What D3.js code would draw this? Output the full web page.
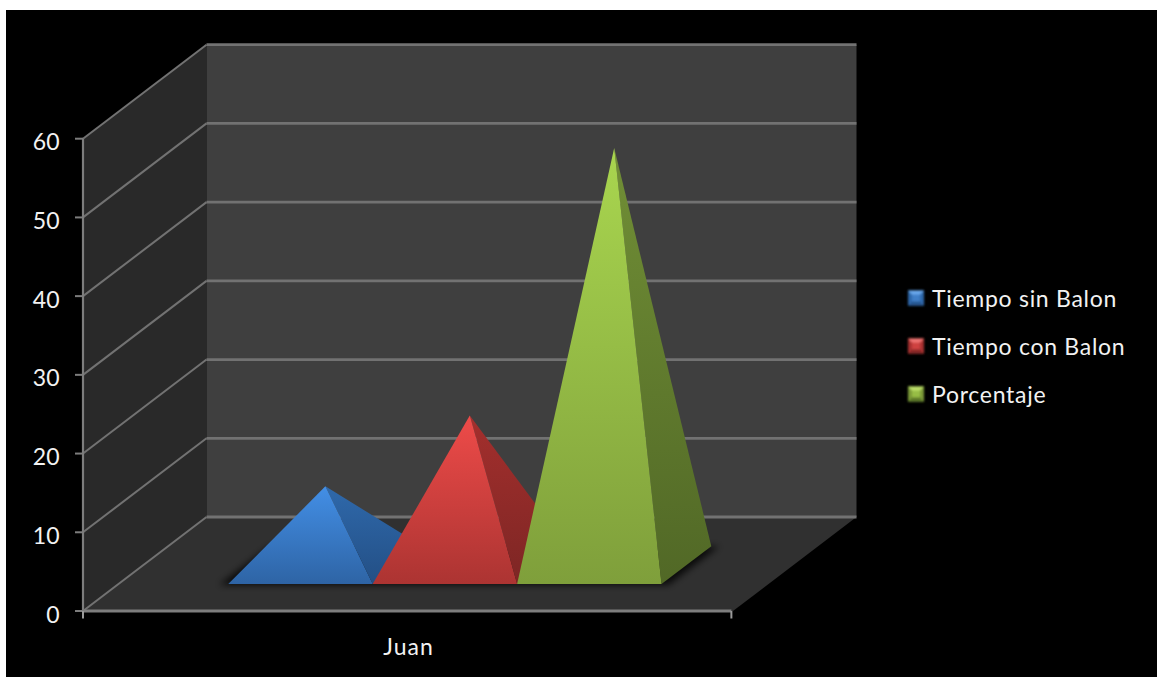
<!DOCTYPE html>
<html>
<head>
<meta charset="utf-8">
<script src="https://cdn.jsdelivr.net/npm/d3@7"></script>
<style>
html,body{margin:0;padding:0;background:#fff;}
svg{display:block;}
text{font-family:Lato,"Open Sans",sans-serif;fill:#f2f2f2;}
</style>
</head>
<body>
<div id="chart"></div>
<script>
const categories = ["Juan"];
const seriesNames = ["Tiempo sin Balon", "Tiempo con Balon", "Porcentaje"];
const seriesValues = [10, 19, 53];
const yTicks = [0, 10, 20, 30, 40, 50, 60];

// top, bottom colours for the lit front face, then for the shaded side face
const frontColors = [["#438fe6", "#2e64a5"], ["#ee4b49", "#ac3432"], ["#a9d64f", "#7f9f3b"]];
const sideColors = [["#2f69ab", "#234f85"], ["#a42f2d", "#7d2624"], ["#718f36", "#516826"]];
const swatchColors = [
  ["#6aa8ec", "#2f68aa", "#3f7fc8", "#27558e"],
  ["#f07573", "#a83230", "#cf4240", "#842725"],
  ["#bde06a", "#7b9a38", "#97bd45", "#5c7729"]
];

const W = 1157, H = 677;
const svg = d3.select("#chart").append("svg").attr("width", W).attr("height", H);
const defs = svg.append("defs");

// Plot box: front plane of the chart plus the oblique depth vector
const y = d3.scaleLinear().domain([0, 60]).range([611, 138.7]);
const x = d3.scaleLinear().domain([0, 1]).range([83, 733]);
const depthX = d3.scaleLinear().domain([0, 1]).range([0, 123.5]);
const depthY = d3.scaleLinear().domain([0, 1]).range([0, -94]);

// Project (x fraction, value, depth fraction) to the page
const project = (fx, v, d) => [x(fx) + depthX(d), y(v) + depthY(d)];
const poly = pts => "M" + pts.map(p => p.join(",")).join("L") + "Z";

// Category and series bands along the floor
const catBand = d3.scaleBand().domain(categories).range([0, 1]);
const serBand = d3.scaleBand().domain(seriesNames)
  .range([catBand("Juan") + 0.169, catBand("Juan") + 0.169 + 0.6665]);
const baseDepth = [0.287, 0.69];

// Backdrop
svg.append("rect").attr("x", 6).attr("y", 10).attr("width", W - 6).attr("height", H - 10).attr("fill", "#000");

// Walls and floor
svg.append("path").attr("fill", "#292929")
  .attr("d", poly([project(0, 0, 0), project(0, 60, 0), project(0, 60, 1), project(0, 0, 1)]));
svg.append("path").attr("fill", "#3f3f3f")
  .attr("d", poly([project(0, 0, 1), project(0, 60, 1), project(1, 60, 1), project(1, 0, 1)]));
svg.append("path").attr("fill", "#303030")
  .attr("d", poly([project(0, 0, 0), project(0, 0, 1), project(1, 0, 1), project(1, 0, 0)]));

// Gridlines run along the left wall and across the back wall
const grid = svg.append("g").attr("fill", "none").attr("stroke", "#727272").attr("stroke-linejoin", "round");
yTicks.forEach(t => {
  grid.append("path").attr("stroke-width", 2)
    .attr("d", d3.line()([project(0, t, 0), project(0, t, 1)]));
  grid.append("path").attr("stroke-width", 2.8)
    .attr("d", d3.line()([project(0, t, 1), project(1, t, 1)]));
});

// Axis lines and tick marks
const axis = svg.append("g").attr("stroke", "#7d7d7d").attr("fill", "none");
axis.append("path").attr("stroke-width", 2.2)
  .attr("d", d3.line()([project(0, 60, 0), project(0, 0, 0)]));
axis.append("path").attr("stroke-width", 3)
  .attr("d", d3.line()([project(0, 0, 0), project(0.9975, 0, 0)]));
axis.selectAll(".ytick").data(yTicks).join("path").attr("stroke-width", 2)
  .attr("d", t => d3.line()([[75, y(t)], [83, y(t)]]));
axis.selectAll(".xtick").data([0, 0.9975]).join("path").attr("stroke-width", 2)
  .attr("stroke", "#9a9a9a")
  .attr("d", f => d3.line()([[x(f), 611], [x(f), 618.5]]));

// Value labels
svg.append("g").selectAll("text").data(yTicks).join("text")
  .attr("x", 59.5).attr("y", t => y(t) + 11.5)
  .attr("text-anchor", "end").attr("font-size", 23)
  .text(t => t);

// Category label
svg.append("text").attr("x", 408.5).attr("y", 655)
  .attr("text-anchor", "middle").attr("font-size", 23).attr("letter-spacing", 1)
  .text(categories[0]);

// Soft contact shadow on the floor
defs.append("filter").attr("id", "soft").attr("x", "-20%").attr("y", "-20%").attr("width", "140%").attr("height", "140%")
  .append("feGaussianBlur").attr("stdDeviation", 3.5);
defs.append("filter").attr("id", "swatchSoft").attr("x", "-30%").attr("y", "-30%").attr("width", "160%").attr("height", "160%")
  .append("feGaussianBlur").attr("stdDeviation", 0.8);
const x0 = serBand(seriesNames[0]) - 0.012;
const x1 = serBand(seriesNames[2]) + serBand.bandwidth() + 0.012;
svg.append("path").attr("fill", "#000").attr("fill-opacity", 0.8).attr("filter", "url(#soft)")
  .attr("d", poly([
    project(x0, 0, baseDepth[0] - 0.01), project(x0, 0, baseDepth[1]),
    project(x1, 0, baseDepth[1]), project(x1, 0, baseDepth[0] - 0.01)
  ]));

// Vertical fill gradients, anchored in page space
const addGradient = (id, top, bottom, y1, y2) => {
  const g = defs.append("linearGradient").attr("id", id)
    .attr("gradientUnits", "userSpaceOnUse")
    .attr("x1", 0).attr("x2", 0).attr("y1", y1).attr("y2", y2);
  g.append("stop").attr("offset", 0).attr("stop-color", top);
  g.append("stop").attr("offset", 1).attr("stop-color", bottom);
};

// Pyramids, drawn left to right so each one overlaps its neighbour's side face
seriesNames.forEach((name, i) => {
  const a = serBand(name), b = a + serBand.bandwidth();
  const mid = (a + b) / 2, dMid = (baseDepth[0] + baseDepth[1]) / 2;
  const fl = project(a, 0, baseDepth[0]);
  const fr = project(b, 0, baseDepth[0]);
  const br = project(b, 0, baseDepth[1]);
  const apex = project(mid, seriesValues[i], dMid);
  addGradient("side" + i, sideColors[i][0], sideColors[i][1], apex[1], fr[1]);
  addGradient("front" + i, frontColors[i][0], frontColors[i][1], apex[1], fr[1]);
  svg.append("path").attr("fill", `url(#side${i})`).attr("d", poly([apex, fr, br]));
  svg.append("path").attr("fill", `url(#front${i})`).attr("d", poly([apex, fl, fr]));
});

// Legend with small bevelled swatches
const legendY = d3.scalePoint().domain(seriesNames).range([298, 394]);
const legend = svg.append("g");
seriesNames.forEach((name, i) => {
  const cy = legendY(name), l = 908, r = 924, t = cy - 7.5, b = cy + 7.5;
  const inner = [[l + 4, t + 4], [r - 4, t + 4], [r - 4, b - 4], [l + 4, b - 4]];
  const swatch = legend.append("g").attr("filter", "url(#swatchSoft)");
  swatch.append("path").attr("fill", swatchColors[i][2]).attr("d", poly([[l, t], [r, t], [r, b], [l, b]]));
  swatch.append("path").attr("fill", swatchColors[i][0]).attr("d", poly([[l, t], [r, t], inner[1], inner[0]]));
  swatch.append("path").attr("fill", swatchColors[i][1]).attr("d", poly([[l, t], inner[0], inner[3], [l, b]]));
  swatch.append("path").attr("fill", swatchColors[i][1]).attr("d", poly([[r, t], inner[1], inner[2], [r, b]]));
  swatch.append("path").attr("fill", swatchColors[i][3]).attr("d", poly([[l, b], inner[3], inner[2], [r, b]]));
  legend.append("text").attr("x", 932).attr("y", cy + 9)
    .attr("font-size", 23).attr("letter-spacing", 0.72).text(name);
});
</script>
</body>
</html>
